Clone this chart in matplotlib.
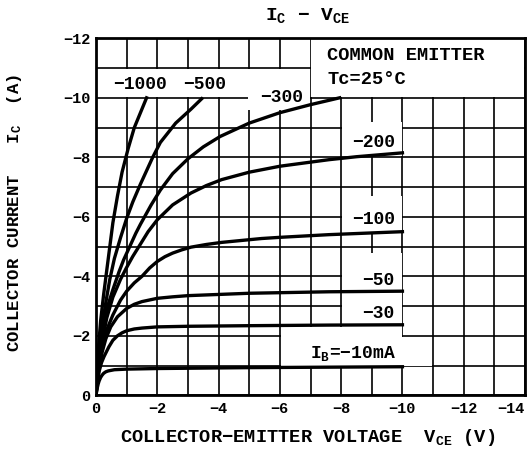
import matplotlib
matplotlib.use("Agg")
import matplotlib.pyplot as plt
from matplotlib.patches import Rectangle

plt.rcParams["font.family"] = ["Liberation Mono", "DejaVu Sans Mono"]
plt.rcParams["font.weight"] = "bold"
plt.rcParams["mathtext.fontset"] = "custom"
plt.rcParams["mathtext.rm"] = "Liberation Mono:bold"
plt.rcParams["mathtext.it"] = "Liberation Mono:bold"
plt.rcParams["mathtext.bf"] = "Liberation Mono:bold"

# I_C - V_CE curves, one pair of lists per base current (mA)
vce_1000 = [0, -0.03, -0.08, -0.15, -0.25, -0.35, -0.45, -0.55, -0.7, -0.85, -1.05, -1.25, -1.45, -1.65]
ic_1000 = [0, -0.8, -1.6, -2.5, -3.4, -4.2, -5.0, -5.8, -6.7, -7.5, -8.3, -9.0, -9.5, -10.0]

vce_500 = [0, -0.04, -0.1, -0.2, -0.3, -0.45, -0.6, -0.8, -1.0, -1.2, -1.45, -1.85, -2.1, -2.6, -3.1, -3.45]
ic_500 = [0, -0.7, -1.4, -2.3, -3.0, -3.9, -4.6, -5.3, -5.95, -6.5, -7.1, -8.0, -8.5, -9.15, -9.62, -9.97]

vce_300 = [0, -0.04, -0.1, -0.2, -0.35, -0.55, -0.75, -0.9, -1.1, -1.3, -1.45, -1.8, -2.1, -2.5, -3.0, -3.5,
           -4.05, -5.0, -6.0, -7.0, -7.95]
ic_300 = [0, -0.6, -1.2, -2.0, -2.9, -3.55, -4.15, -4.55, -5.0, -5.45, -5.75, -6.4, -6.9, -7.45, -7.95, -8.35,
          -8.7, -9.15, -9.5, -9.77, -10.0]

vce_200 = [0, -0.04, -0.1, -0.2, -0.35, -0.55, -0.8, -1.0, -1.2, -1.4, -1.7, -2.0, -2.5, -3.1, -3.6, -4.1,
           -5.0, -6.0, -7.6, -8.5, -10.0]
ic_200 = [0, -0.55, -1.1, -1.8, -2.6, -3.3, -3.9, -4.3, -4.67, -5.0, -5.5, -5.9, -6.4, -6.8, -7.05, -7.25,
          -7.5, -7.7, -7.92, -8.02, -8.15]

vce_100 = [0, -0.04, -0.1, -0.2, -0.35, -0.55, -0.8, -1.0, -1.25, -1.5, -1.75, -2.0, -2.25, -2.5, -2.8, -3.1,
           -3.6, -4.1, -5.4, -6.0, -7.6, -10.0]
ic_100 = [0, -0.5, -1.0, -1.6, -2.2, -2.7, -3.2, -3.5, -3.78, -4.0, -4.28, -4.5, -4.66, -4.78, -4.89, -4.98,
          -5.07, -5.14, -5.27, -5.31, -5.4, -5.5]

vce_50 = [0, -0.04, -0.1, -0.2, -0.32, -0.48, -0.7, -1.0, -1.25, -1.5, -2.0, -2.5, -3.0, -5.0, -7.6, -10.0]
ic_50 = [0, -0.45, -0.9, -1.45, -1.9, -2.3, -2.64, -2.92, -3.06, -3.15, -3.26, -3.31, -3.35, -3.43, -3.48, -3.5]

vce_30 = [0, -0.04, -0.1, -0.18, -0.26, -0.42, -0.55, -0.7, -0.85, -1.0, -1.25, -1.5, -2.0, -3.0, -5.0, -7.6, -10.0]
ic_30 = [0, -0.4, -0.8, -1.1, -1.3, -1.63, -1.85, -2.0, -2.1, -2.17, -2.23, -2.26, -2.3, -2.32, -2.34, -2.36, -2.37]

vce_10 = [0, -0.03, -0.07, -0.1, -0.15, -0.2, -0.25, -0.32, -0.4, -0.6, -1.0, -2.0, -5.0, -10.0]
ic_10 = [0, -0.2, -0.38, -0.48, -0.6, -0.68, -0.74, -0.79, -0.82, -0.86, -0.88, -0.9, -0.93, -0.96]

curves = [(vce_1000, ic_1000), (vce_500, ic_500), (vce_300, ic_300), (vce_200, ic_200),
          (vce_100, ic_100), (vce_50, ic_50), (vce_30, ic_30), (vce_10, ic_10)]

x_ticks = [0, -2, -4, -6, -8, -10, -12, -14]
x_labels = ["0", "−2", "−4", "−6", "−8", "−10", "−12", "−14"]
y_ticks = [0, -2, -4, -6, -8, -10, -12]
y_labels = ["0", "−2", "−4", "−6", "−8", "−10", "−12"]

fig = plt.figure(figsize=(5.32, 4.54), dpi=100)
ax = fig.add_axes([0.1805, 0.1293, 0.8063, 0.7863])

ax.set_xlim(0, -14)
ax.set_ylim(0, -12)
ax.set_xticks(x_ticks)
ax.set_xticklabels(x_labels)
ax.set_yticks(y_ticks)
ax.set_yticklabels(y_labels)
ax.set_xticks(range(0, -15, -1), minor=True)
ax.set_yticks(range(0, -13, -1), minor=True)
ax.tick_params(which="both", length=0, labelsize=11)
ax.tick_params(axis="x", pad=5)
ax.tick_params(axis="y", pad=4)
ax.get_xticklabels()[-1].set_horizontalalignment("right")
ax.set_axisbelow(True)
ax.grid(which="both", color="black", linewidth=1.2)
for s in ax.spines.values():
    s.set_linewidth(2)
    s.set_zorder(5)

# white label boxes that blank out the grid, (v0, i0, v1, i1)
boxes = [
    (0, -10.03, -4.97, -10.97),
    (-4.97, -9.6, -6.97, -10.97),
    (-7.03, -10.03, -13.97, -11.97),
    (-8.03, -8.05, -9.97, -9.2),
    (-8.03, -5.45, -9.97, -6.7),
    (-8.03, -2.3, -9.97, -4.78),
    (-6.03, -0.97, -9.97, -2.3),
    (-9.9, -0.97, -10.97, -1.97),
]
for v0, i0, v1, i1 in boxes:
    ax.add_patch(Rectangle((v0, i0), v1 - v0, i1 - i0, facecolor="white",
                           edgecolor="none", zorder=1))

for v, i in curves:
    ax.plot(v, i, color="black", linewidth=2.4, zorder=3, solid_joinstyle="round")

lab = dict(fontsize=13, zorder=4, va="center")
ax.text(-1.45, -10.45, "−1000", ha="center", **lab)
ax.text(-3.55, -10.45, "−500", ha="center", **lab)
ax.text(-6.05, -10.0, "−300", ha="center", **lab)
ax.text(-9.75, -8.5, "−200", ha="right", **lab)
ax.text(-9.75, -5.9, "−100", ha="right", **lab)
ax.text(-9.75, -3.87, "−50", ha="right", **lab)
ax.text(-9.75, -2.75, "−30", ha="right", **lab)
ax.text(-8.4, -1.4, "I$_{B}$=−10mA", ha="center", **lab)
ax.text(-7.55, -11.42, "COMMON EMITTER", ha="left", fontsize=13.5, zorder=4, va="center")
ax.text(-7.55, -10.6, "Tc=25°C", ha="left", fontsize=13.5, zorder=4, va="center")

fig.text(0.578, 0.966, "I$_{C}$ − V$_{CE}$", ha="center", va="center", fontsize=14)
fig.text(0.028, 0.53, "COLLECTOR CURRENT   I$_{C}$  (A)", rotation=90,
         ha="center", va="center", fontsize=12.5)
fig.text(0.578, 0.037, "COLLECTOR−EMITTER VOLTAGE  V$_{CE}$ (V)",
         ha="center", va="center", fontsize=13.5)

fig.savefig("out.png", dpi=100)
